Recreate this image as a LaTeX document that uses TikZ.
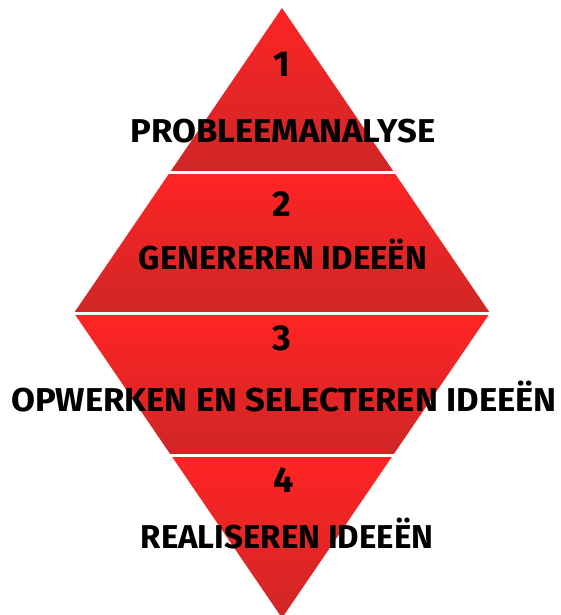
\documentclass[tikz,border=0pt]{standalone}
\usepackage{fontspec}
\setmainfont{Fira Sans}
\usetikzlibrary{positioning}
\definecolor{bandtop}{RGB}{255,36,36}
\definecolor{bandbot}{RGB}{208,38,38}
\begin{document}
\begin{tikzpicture}[
  x=1pt, y=-1pt,
  band/.style={top color=bandtop, bottom color=bandbot},
  num/.style={font=\fontsize{36}{36}\selectfont\bfseries, inner sep=0pt},
  stage/.style={font=\fontsize{33}{33}\selectfont\bfseries, inner sep=0pt}
]
\useasboundingbox[fill=white] (0,0) rectangle (560,615);
% corners of the diamond
\coordinate (top) at (282,8);
\coordinate (right) at (490,313);
\coordinate (bot) at (282,618);
\coordinate (left) at (74,313);
\begin{scope}
  \clip (top) -- (right) -- (bot) -- (left) -- cycle;
  \shade[band] (0,0) rectangle (560,170);
  \shade[band] (0,174) rectangle (560,311);
  \shade[band] (0,315) rectangle (560,453);
  \shade[band] (0,457) rectangle (560,618);
\end{scope}
% stages
\node[num]   (n1) at (282,64)  {1};
\node[stage, xscale=1.05] (s1) at (283,131) {PROBLEEMANALYSE};
\node[num]   (n2) at (282,204) {2};
\node[stage] (s2) at (283,255) {GENEREREN IDEEËN};
\node[num]   (n3) at (282,338) {3};
\node[stage, xscale=1.05] (s3) at (284,397) {OPWERKEN EN SELECTEREN IDEEËN};
\node[num]   (n4) at (284,480) {4};
\node[stage] (s4) at (287,534) {REALISEREN IDEEËN};
\end{tikzpicture}
\end{document}
